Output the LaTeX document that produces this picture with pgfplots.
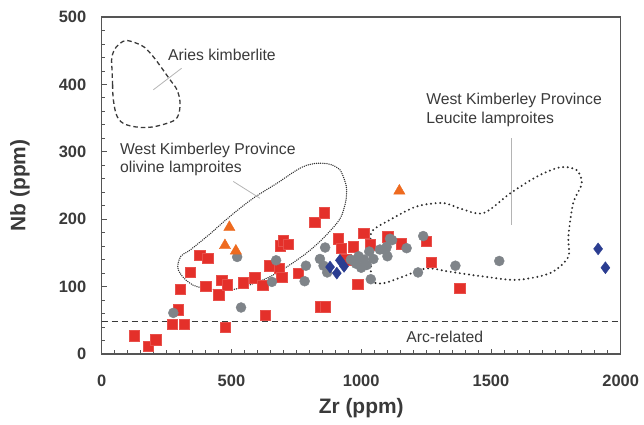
\documentclass[border=0pt]{standalone}
\usepackage{fontspec}
\setmainfont{Liberation Sans}
\usepackage{pgfplots}
\pgfplotsset{compat=1.18}
\definecolor{redsq}{HTML}{E4302A}
\definecolor{graycirc}{HTML}{7F8489}
\definecolor{bluedia}{HTML}{2B3D91}
\definecolor{orangetri}{HTML}{EE6A1F}
\definecolor{txt}{HTML}{3A3A3A}
\definecolor{axcol}{HTML}{555555}
\definecolor{leader}{HTML}{B4B4B4}
\begin{document}
\begin{tikzpicture}
\path[use as bounding box] (0,0) rectangle (644bp,425bp);
\begin{axis}[
 at={(101.7bp,71bp)}, anchor=south west,
 width=519bp, height=337bp, scale only axis,
 xmin=0,xmax=2000,ymin=0,ymax=500,
 xtick={0,500,...,2000}, ytick={0,100,...,500},
 minor x tick num=9, minor y tick num=4,
 tick pos=left, tick align=inside,
 major tick length=5bp, minor tick length=3.5bp,
 axis line style={axcol, line width=1.2bp},
 every tick/.style={axcol, line width=0.8bp},
 /pgf/number format/assume math mode=true,
 /pgf/number format/1000 sep={},
 ticklabel style={font=\bfseries\fontsize{16.5}{18}\selectfont, text=txt},
 xticklabel style={yshift=-18bp},
 yticklabel style={xshift=-12bp},
 xlabel={Zr (ppm)}, ylabel={Nb (ppm)},
 label style={font=\bfseries\fontsize{21}{24}\selectfont, text=txt},
 xlabel style={at={(axis description cs:0.5,-0.160)}, anchor=center},
 ylabel style={at={(axis description cs:-0.1574,0.5)}, anchor=center},
]
% Arc-related line
\addplot[txt, line width=1.1bp, dash pattern=on 6bp off 4bp] coordinates {(0,48) (2000,48)};
% Aries kimberlite outline
\addplot[txt, line width=1.3bp, dash pattern=on 4.5bp off 3bp, smooth, tension=0.6] coordinates {
(42,400) (45,377) (60,352) (96,340) (173,336) (250,342) (291,351) (302,372) (290,392) (263,407) (230,425) (199,441) (165,455) (135,461) (100,465) (83,464) (55,455) (39,440) (40,420) (42,400)};
% olivine lamproites outline
\addplot[txt!85!black, line width=1.5bp, dash pattern=on 0bp off 2.1bp, line cap=round, smooth, tension=0.6] coordinates {
(420,179) (494,204) (580,230) (674,253) (777,278) (854,283) (910,276) (931,263) (944,243) (935,218) (906,194) (803,154) (674,120) (580,104) (494,95) (400,97) (340,105) (295,125) (305,145) (340,154) (420,179)};
% leader lines
\addplot[leader, line width=0.8bp] coordinates {(199,392) (308,424)};
\addplot[leader, line width=0.8bp] coordinates {(507,256) (610,231)};
\addplot[leader, line width=0.8bp] coordinates {(1580,320) (1580,191)};
% red squares
\addplot[only marks, mark=square*, mark size=5.2bp, mark options={fill=redsq, draw=redsq!85!white, line width=0.3bp}] table {
x y
125 27
180 12
208 21
272 44
318 44
295 66
303 96
341 121
378 147
408 142
400 101
450 88
462 110
484 103
475 40
546 106
590 113
620 102
630 58
647 131
684 127
694 114
687 161
700 168
718 163
756 120
821 196
857 210
841 70
862 70
911 171
923 157
940 140
970 159
986 104
1010 179
1034 162
1102 174
1155 164
1250 167
1270 136
1380 98
};
% gray circles
\addplot[only marks, mark=*, mark size=5bp, mark options={fill=graycirc, draw=graycirc}] table {
x y
276 61
537 69
522 144
672 139
656 107
787 131
782 108
841 141
855 131
861 158
869 121
960 140
980 134
990 145
1000 128
1011 140
1021 132
1031 152
1037 111
1047 141
1072 155
1093 154
1101 145
1098 159
1111 171
1119 169
1175 157
1219 121
1239 175
1363 131
1532 138
};
% blue diamonds
\addplot[only marks, mark=diamond*, mark size=6bp, mark options={fill=bluedia, draw=bluedia}] table {
x y
880 129
906 120
918 139
934 130
1913 156
1941 128
};
% orange triangles
\addplot[only marks, mark=triangle*, mark size=6.5bp, mark options={fill=orangetri, draw=orangetri}] table {
x y
475 161
492 188
517 153
1147 242
};
% leucite lamproites outline (drawn over the markers)
\addplot[txt!80!black, line width=2.2bp, dash pattern=on 0bp off 4.6bp, line cap=round, smooth, tension=0.5] coordinates {
(1040,150) (1040,110) (1085,105) (1162,115) (1252,127) (1342,122) (1471,115) (1599,110) (1728,120) (1798,144) (1798,174) (1817,224) (1850,253) (1830,273) (1766,277) (1676,263) (1573,238) (1471,209) (1380,216) (1316,224) (1214,219) (1111,199) (1040,181) (1040,150)};
% labels
\node[anchor=west, inner sep=0pt, text=txt, font=\fontsize{15.8}{17.6}\selectfont] at (axis cs:255,444) {Aries kimberlite};
\node[anchor=west, inner sep=0pt, text=txt, align=left, font=\fontsize{15.8}{17.6}\selectfont] at (axis cs:70,289) {West Kimberley Province\\olivine lamproites};
\node[anchor=west, inner sep=0pt, text=txt, align=left, font=\fontsize{15.8}{18.4}\selectfont] at (axis cs:1250,362) {West Kimberley Province\\Leucite lamproites};
\node[inner sep=0pt, text=txt, font=\fontsize{15.8}{17.6}\selectfont] at (axis cs:1322,25) {Arc-related};
\end{axis}
\end{tikzpicture}
\end{document}
